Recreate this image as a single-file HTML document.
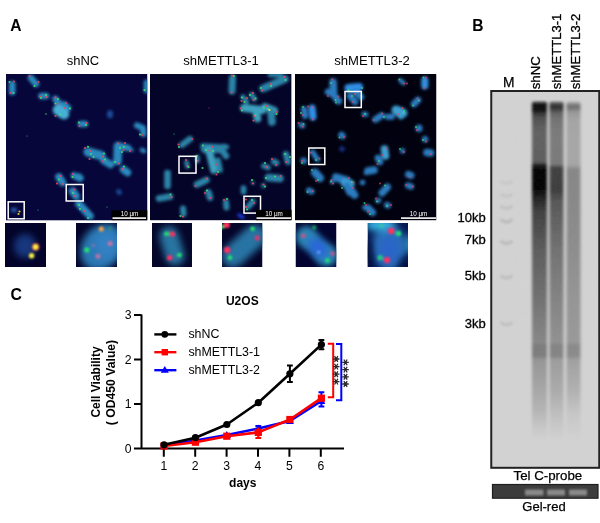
<!DOCTYPE html>
<html><head><meta charset="utf-8">
<style>
html,body{margin:0;padding:0;background:#fff;width:600px;height:523px;overflow:hidden}
svg{display:block;font-family:"Liberation Sans",sans-serif;will-change:transform}
</style></head><body>
<svg width="600" height="523" viewBox="0 0 600 523">
<defs>
  <filter id="b1" x="-50%" y="-50%" width="200%" height="200%"><feGaussianBlur stdDeviation="1"/></filter>
  <filter id="b2" x="-50%" y="-50%" width="200%" height="200%"><feGaussianBlur stdDeviation="2"/></filter>
  <filter id="b3" x="-50%" y="-50%" width="200%" height="200%"><feGaussianBlur stdDeviation="3"/></filter>
  <filter id="cb" x="-50%" y="-50%" width="200%" height="200%"><feGaussianBlur stdDeviation="1.4"/></filter>
  <filter id="db" x="-100%" y="-100%" width="300%" height="300%"><feGaussianBlur stdDeviation="0.7"/></filter>
  <filter id="b5" x="-50%" y="-50%" width="200%" height="200%"><feGaussianBlur stdDeviation="5"/></filter>
</defs>

<!-- Panel labels -->
<text x="10.2" y="31.2" font-size="15.6" font-weight="bold">A</text>
<text x="472.3" y="31.4" font-size="15.6" font-weight="bold">B</text>
<text x="10.6" y="300.2" font-size="15.8" font-weight="bold">C</text>

<!-- Panel A titles -->
<text x="83" y="64.6" font-size="13" text-anchor="middle">shNC</text>
<text x="221" y="64.6" font-size="13.1" text-anchor="middle">shMETTL3-1</text>
<text x="372" y="64.6" font-size="13.1" text-anchor="middle">shMETTL3-2</text>

<!-- Microscopy images -->
<clipPath id="cp1"><rect x="6" y="74" width="141.5" height="146.6"/></clipPath>
<g clip-path="url(#cp1)">
<rect x="6" y="74" width="141.5" height="146.6" fill="#06063a"/>
<g filter="url(#cb)">
<path d="M12.2 84.0 L12.2 92.0" stroke="#2c8abe" stroke-width="6.6" stroke-linecap="round" stroke-linejoin="round" fill="none" opacity="1.0"/>
<path d="M31.0 78.0 L36.0 84.0" stroke="#2c8abe" stroke-width="6.6" stroke-linecap="round" stroke-linejoin="round" fill="none" opacity="1.0"/>
<path d="M41.5 96.0 L46.0 96.0" stroke="#2c8abe" stroke-width="6.6" stroke-linecap="round" stroke-linejoin="round" fill="none" opacity="1.0"/>
<path d="M55.5 99.0 L58.5 103.0" stroke="#2c8abe" stroke-width="6.6" stroke-linecap="round" stroke-linejoin="round" fill="none" opacity="1.0"/>
<path d="M64.0 104.5 L68.0 108.0" stroke="#2c8abe" stroke-width="6.6" stroke-linecap="round" stroke-linejoin="round" fill="none" opacity="1.0"/>
<path d="M58.0 110.0 L64.0 114.0" stroke="#46b0d6" stroke-width="10.6" stroke-linecap="round" stroke-linejoin="round" fill="none" opacity="1.0"/>
<path d="M110.0 113.0 L110.0 115.5" stroke="#2060b0" stroke-width="5.6" stroke-linecap="round" stroke-linejoin="round" fill="none" opacity="0.8"/>
<path d="M81.0 124.0 L85.0 124.0" stroke="#2c8abe" stroke-width="6.6" stroke-linecap="round" stroke-linejoin="round" fill="none" opacity="1.0"/>
<path d="M137.0 125.5 L143.0 128.0 L143.5 134.0" stroke="#2c8abe" stroke-width="6.1" stroke-linecap="round" stroke-linejoin="round" fill="none" opacity="1.0"/>
<path d="M146.0 82.0 L146.0 91.0" stroke="#2c8abe" stroke-width="4.6" stroke-linecap="round" stroke-linejoin="round" fill="none" opacity="1.0"/>
<path d="M88.0 152.0 L101.0 155.5" stroke="#2c8abe" stroke-width="9.1" stroke-linecap="round" stroke-linejoin="round" fill="none" opacity="1.0"/>
<path d="M104.0 160.5 L110.5 164.5" stroke="#2c8abe" stroke-width="7.6" stroke-linecap="round" stroke-linejoin="round" fill="none" opacity="1.0"/>
<path d="M118.0 146.0 L117.5 161.0" stroke="#2c8abe" stroke-width="8.6" stroke-linecap="round" stroke-linejoin="round" fill="none" opacity="1.0"/>
<path d="M118.0 145.5 L128.0 148.0" stroke="#2c8abe" stroke-width="6.6" stroke-linecap="round" stroke-linejoin="round" fill="none" opacity="1.0"/>
<path d="M123.5 169.5 L127.5 172.5" stroke="#2c8abe" stroke-width="7.6" stroke-linecap="round" stroke-linejoin="round" fill="none" opacity="1.0"/>
<path d="M131.0 150.0 L132.0 150.0" stroke="#2c8abe" stroke-width="3.6" stroke-linecap="round" stroke-linejoin="round" fill="none" opacity="1.0"/>
<path d="M142.0 150.0 L144.0 151.0" stroke="#2c8abe" stroke-width="4.6" stroke-linecap="round" stroke-linejoin="round" fill="none" opacity="1.0"/>
<path d="M59.0 177.0 L62.5 182.5" stroke="#2c8abe" stroke-width="7.6" stroke-linecap="round" stroke-linejoin="round" fill="none" opacity="1.0"/>
<path d="M74.0 175.5 L79.0 178.0" stroke="#2c8abe" stroke-width="6.6" stroke-linecap="round" stroke-linejoin="round" fill="none" opacity="1.0"/>
<path d="M79.0 176.0 L81.0 178.0" stroke="#2c8abe" stroke-width="5.6" stroke-linecap="round" stroke-linejoin="round" fill="none" opacity="1.0"/>
<path d="M72.5 191.0 L76.0 196.0" stroke="#2c8abe" stroke-width="7.6" stroke-linecap="round" stroke-linejoin="round" fill="none" opacity="1.0"/>
<path d="M79.0 204.0 L90.0 216.0" stroke="#2c8abe" stroke-width="7.6" stroke-linecap="round" stroke-linejoin="round" fill="none" opacity="1.0"/>
<path d="M118.5 191.5 L119.5 192.5" stroke="#2060b0" stroke-width="4.6" stroke-linecap="round" stroke-linejoin="round" fill="none" opacity="0.8"/>
<path d="M78.0 177.0 L80.0 179.0" stroke="#2c8abe" stroke-width="5.6" stroke-linecap="round" stroke-linejoin="round" fill="none" opacity="1.0"/>
<path d="M13.0 210.0 L15.0 210.0" stroke="#2860b0" stroke-width="4.6" stroke-linecap="round" stroke-linejoin="round" fill="none" opacity="0.9"/>
</g>
<g filter="url(#db)" opacity="0.9">
<circle cx="9.5" cy="82.0" r="1.0924999999999998" fill="#40e070"/>
<circle cx="14.0" cy="81.5" r="1.0924999999999998" fill="#f04060"/>
<circle cx="10.5" cy="93.0" r="1.0924999999999998" fill="#f04060"/>
<circle cx="13.5" cy="93.0" r="1.0924999999999998" fill="#40e070"/>
<circle cx="29.5" cy="76.0" r="1.0924999999999998" fill="#f04060"/>
<circle cx="38.5" cy="82.0" r="1.0924999999999998" fill="#f04060"/>
<circle cx="34.5" cy="86.0" r="1.0924999999999998" fill="#40e070"/>
<circle cx="40.0" cy="96.5" r="1.0924999999999998" fill="#f04060"/>
<circle cx="46.0" cy="95.0" r="1.0924999999999998" fill="#40e070"/>
<circle cx="41.0" cy="98.0" r="1.0924999999999998" fill="#40e070"/>
<circle cx="46.5" cy="97.0" r="1.0924999999999998" fill="#f04060"/>
<circle cx="55.5" cy="97.5" r="1.0924999999999998" fill="#f04060"/>
<circle cx="58.0" cy="99.0" r="1.0924999999999998" fill="#40e070"/>
<circle cx="55.5" cy="103.5" r="1.0924999999999998" fill="#40e070"/>
<circle cx="57.5" cy="104.0" r="1.0924999999999998" fill="#f04060"/>
<circle cx="66.0" cy="103.0" r="1.0924999999999998" fill="#f04060"/>
<circle cx="70.0" cy="108.5" r="1.0924999999999998" fill="#40e070"/>
<circle cx="65.0" cy="108.0" r="1.0924999999999998" fill="#f04060"/>
<circle cx="60.0" cy="114.5" r="1.0924999999999998" fill="#40e070"/>
<circle cx="55.5" cy="116.0" r="1.0924999999999998" fill="#f04060"/>
<circle cx="79.0" cy="122.5" r="1.0924999999999998" fill="#40e070"/>
<circle cx="79.5" cy="126.0" r="1.0924999999999998" fill="#f04060"/>
<circle cx="86.0" cy="125.0" r="1.0924999999999998" fill="#40e070"/>
<circle cx="86.5" cy="123.0" r="1.0924999999999998" fill="#f04060"/>
<circle cx="140.0" cy="134.5" r="1.0924999999999998" fill="#40e070"/>
<circle cx="142.0" cy="135.0" r="1.0924999999999998" fill="#f04060"/>
<circle cx="144.5" cy="90.0" r="1.0924999999999998" fill="#40e070"/>
<circle cx="85.0" cy="148.0" r="1.0924999999999998" fill="#f04060"/>
<circle cx="88.0" cy="146.8" r="1.0924999999999998" fill="#40e070"/>
<circle cx="90.0" cy="151.0" r="1.0924999999999998" fill="#f04060"/>
<circle cx="91.0" cy="154.0" r="1.0924999999999998" fill="#40e070"/>
<circle cx="89.5" cy="159.0" r="1.0924999999999998" fill="#f04060"/>
<circle cx="93.5" cy="157.0" r="1.0924999999999998" fill="#40e070"/>
<circle cx="104.0" cy="153.5" r="1.0924999999999998" fill="#40e070"/>
<circle cx="103.0" cy="156.5" r="1.0924999999999998" fill="#f04060"/>
<circle cx="105.0" cy="159.5" r="1.0924999999999998" fill="#40e070"/>
<circle cx="103.0" cy="161.0" r="1.0924999999999998" fill="#f04060"/>
<circle cx="118.0" cy="143.5" r="1.0924999999999998" fill="#f04060"/>
<circle cx="125.0" cy="143.0" r="1.0924999999999998" fill="#f04060"/>
<circle cx="124.0" cy="147.0" r="1.0924999999999998" fill="#40e070"/>
<circle cx="120.0" cy="148.0" r="1.0924999999999998" fill="#40e070"/>
<circle cx="115.0" cy="162.0" r="1.0924999999999998" fill="#40e070"/>
<circle cx="119.0" cy="163.5" r="1.0924999999999998" fill="#f04060"/>
<circle cx="122.0" cy="152.0" r="1.0924999999999998" fill="#40e070"/>
<circle cx="123.5" cy="150.0" r="1.0924999999999998" fill="#f04060"/>
<circle cx="130.0" cy="151.0" r="1.0924999999999998" fill="#f04060"/>
<circle cx="124.0" cy="166.5" r="1.0924999999999998" fill="#40e070"/>
<circle cx="122.5" cy="169.0" r="1.0924999999999998" fill="#f04060"/>
<circle cx="60.5" cy="176.0" r="1.0924999999999998" fill="#f04060"/>
<circle cx="59.0" cy="179.5" r="1.0924999999999998" fill="#40e070"/>
<circle cx="57.0" cy="183.5" r="1.0924999999999998" fill="#f04060"/>
<circle cx="63.0" cy="184.0" r="1.0924999999999998" fill="#f04060"/>
<circle cx="73.0" cy="174.0" r="1.0924999999999998" fill="#f04060"/>
<circle cx="72.5" cy="177.0" r="1.0924999999999998" fill="#40e070"/>
<circle cx="73.0" cy="193.0" r="1.0924999999999998" fill="#40e070"/>
<circle cx="74.0" cy="196.0" r="1.0924999999999998" fill="#f04060"/>
<circle cx="74.5" cy="189.5" r="1.0924999999999998" fill="#f04060"/>
<circle cx="79.0" cy="205.0" r="1.0924999999999998" fill="#40e070"/>
<circle cx="84.5" cy="211.0" r="1.0924999999999998" fill="#f04060"/>
<circle cx="80.0" cy="209.0" r="1.0924999999999998" fill="#40e070"/>
<circle cx="88.0" cy="218.0" r="1.0924999999999998" fill="#40e070"/>
<circle cx="19.5" cy="211.5" r="1.0924999999999998" fill="#ffe040"/>
<circle cx="18.5" cy="214.0" r="1.0924999999999998" fill="#ffe040"/>
<circle cx="46.0" cy="114.0" r="0.76" fill="#40e070"/>
<circle cx="107.0" cy="207.0" r="0.57" fill="#40e070"/>
<circle cx="27.0" cy="136.0" r="0.57" fill="#40e070"/>
<circle cx="38.0" cy="210.0" r="0.57" fill="#40e070"/>
</g>
<rect x="8.2" y="201.8" width="16" height="17" fill="none" stroke="#fff" stroke-width="1.5"/><rect x="66.2" y="184.5" width="17" height="16.5" fill="none" stroke="#fff" stroke-width="1.5"/><rect x="111.5" y="210.3" width="36" height="10" fill="#000"/><rect x="112.5" y="217.3" width="33.5" height="1.6" fill="#fff"/><text x="129.5" y="216" font-size="6.3" fill="#fff" text-anchor="middle">10 μm</text>
</g>
<clipPath id="cp2"><rect x="150" y="74" width="141.6" height="146.4"/></clipPath>
<g clip-path="url(#cp2)">
<rect x="150" y="74" width="141.6" height="146.4" fill="#040428"/>
<g filter="url(#cb)">
<path d="M182.0 145.0 L190.0 139.0" stroke="#2c84a8" stroke-width="6.1" stroke-linecap="round" stroke-linejoin="round" fill="none" opacity="1.0"/>
<path d="M203.0 146.0 L222.0 147.0" stroke="#2c84a8" stroke-width="5.6" stroke-linecap="round" stroke-linejoin="round" fill="none" opacity="1.0"/>
<path d="M232.5 78.0 L232.0 91.0" stroke="#2c84a8" stroke-width="7.1" stroke-linecap="round" stroke-linejoin="round" fill="none" opacity="1.0"/>
<path d="M263.0 88.5 L285.0 79.0" stroke="#2c84a8" stroke-width="7.6" stroke-linecap="round" stroke-linejoin="round" fill="none" opacity="1.0"/>
<path d="M270.0 75.0 L281.0 75.0" stroke="#2c84a8" stroke-width="4.6" stroke-linecap="round" stroke-linejoin="round" fill="none" opacity="1.0"/>
<path d="M243.0 97.0 L246.5 101.5" stroke="#2c84a8" stroke-width="5.1" stroke-linecap="round" stroke-linejoin="round" fill="none" opacity="1.0"/>
<path d="M251.5 94.5 L254.5 99.0" stroke="#2c84a8" stroke-width="5.1" stroke-linecap="round" stroke-linejoin="round" fill="none" opacity="1.0"/>
<path d="M244.0 108.0 L262.0 110.0" stroke="#3ca0be" stroke-width="8.1" stroke-linecap="round" stroke-linejoin="round" fill="none" opacity="1.0"/>
<path d="M256.0 111.0 L257.5 118.5" stroke="#3ca0be" stroke-width="7.6" stroke-linecap="round" stroke-linejoin="round" fill="none" opacity="1.0"/>
<path d="M265.0 107.0 L274.0 110.5" stroke="#3ca0be" stroke-width="7.6" stroke-linecap="round" stroke-linejoin="round" fill="none" opacity="1.0"/>
<path d="M271.0 112.0 L272.0 122.0" stroke="#2c84a8" stroke-width="7.6" stroke-linecap="round" stroke-linejoin="round" fill="none" opacity="1.0"/>
<path d="M224.0 146.0 L227.0 147.0" stroke="#2c84a8" stroke-width="4.6" stroke-linecap="round" stroke-linejoin="round" fill="none" opacity="1.0"/>
<path d="M186.5 162.0 L187.5 166.5" stroke="#2c84a8" stroke-width="4.6" stroke-linecap="round" stroke-linejoin="round" fill="none" opacity="1.0"/>
<path d="M167.5 173.0 L167.5 186.0" stroke="#2c84a8" stroke-width="6.6" stroke-linecap="round" stroke-linejoin="round" fill="none" opacity="1.0"/>
<path d="M159.0 198.5 L170.0 196.5" stroke="#2c84a8" stroke-width="6.6" stroke-linecap="round" stroke-linejoin="round" fill="none" opacity="1.0"/>
<path d="M183.0 208.5 L183.5 214.0" stroke="#2c84a8" stroke-width="6.1" stroke-linecap="round" stroke-linejoin="round" fill="none" opacity="1.0"/>
<path d="M205.0 149.0 L220.0 149.0" stroke="#2c84a8" stroke-width="8.6" stroke-linecap="round" stroke-linejoin="round" fill="none" opacity="1.0"/>
<path d="M209.0 150.0 L214.0 170.0" stroke="#3ca0be" stroke-width="7.6" stroke-linecap="round" stroke-linejoin="round" fill="none" opacity="1.0"/>
<path d="M218.0 160.0 L220.0 170.0" stroke="#2c84a8" stroke-width="5.6" stroke-linecap="round" stroke-linejoin="round" fill="none" opacity="1.0"/>
<path d="M197.0 184.5 L206.5 180.0" stroke="#2c84a8" stroke-width="6.6" stroke-linecap="round" stroke-linejoin="round" fill="none" opacity="1.0"/>
<path d="M208.5 192.5 L210.0 197.5" stroke="#2c84a8" stroke-width="6.6" stroke-linecap="round" stroke-linejoin="round" fill="none" opacity="1.0"/>
<path d="M197.5 157.0 L197.5 161.0" stroke="#2c84a8" stroke-width="4.6" stroke-linecap="round" stroke-linejoin="round" fill="none" opacity="1.0"/>
<path d="M222.0 150.0 L226.0 156.0" stroke="#2c84a8" stroke-width="6.6" stroke-linecap="round" stroke-linejoin="round" fill="none" opacity="1.0"/>
<path d="M274.0 161.5 L276.5 163.0" stroke="#2c84a8" stroke-width="6.1" stroke-linecap="round" stroke-linejoin="round" fill="none" opacity="1.0"/>
<path d="M264.0 166.0 L268.0 167.5" stroke="#2c84a8" stroke-width="5.6" stroke-linecap="round" stroke-linejoin="round" fill="none" opacity="1.0"/>
<path d="M286.0 154.0 L288.0 162.0" stroke="#2c84a8" stroke-width="6.1" stroke-linecap="round" stroke-linejoin="round" fill="none" opacity="1.0"/>
<path d="M268.5 177.5 L280.0 178.5" stroke="#2c84a8" stroke-width="7.6" stroke-linecap="round" stroke-linejoin="round" fill="none" opacity="1.0"/>
<path d="M252.5 182.5 L253.0 183.0" stroke="#2c84a8" stroke-width="3.6" stroke-linecap="round" stroke-linejoin="round" fill="none" opacity="0.8"/>
<path d="M263.0 185.5 L263.5 186.0" stroke="#2c84a8" stroke-width="4.6" stroke-linecap="round" stroke-linejoin="round" fill="none" opacity="0.8"/>
<path d="M243.5 188.0 L243.5 192.0" stroke="#2c84a8" stroke-width="5.6" stroke-linecap="round" stroke-linejoin="round" fill="none" opacity="1.0"/>
<path d="M226.0 202.0 L226.5 207.5" stroke="#2c84a8" stroke-width="6.1" stroke-linecap="round" stroke-linejoin="round" fill="none" opacity="1.0"/>
<path d="M248.0 207.0 L253.0 201.5" stroke="#2c84a8" stroke-width="5.6" stroke-linecap="round" stroke-linejoin="round" fill="none" opacity="1.0"/>
<path d="M239.0 215.0 L243.0 217.5" stroke="#2040ff" stroke-width="3.1" stroke-linecap="round" stroke-linejoin="round" fill="none" opacity="1.0"/>
</g>
<g filter="url(#db)" opacity="0.9">
<circle cx="178.5" cy="144.5" r="1.0924999999999998" fill="#f04060"/>
<circle cx="192.0" cy="139.0" r="1.0924999999999998" fill="#f04060"/>
<circle cx="179.0" cy="147.0" r="1.0924999999999998" fill="#40e070"/>
<circle cx="203.0" cy="145.5" r="1.0924999999999998" fill="#40e070"/>
<circle cx="212.0" cy="147.0" r="1.0924999999999998" fill="#f04060"/>
<circle cx="232.0" cy="75.5" r="1.0924999999999998" fill="#f04060"/>
<circle cx="234.0" cy="76.0" r="1.0924999999999998" fill="#40e070"/>
<circle cx="231.5" cy="92.5" r="1.0924999999999998" fill="#f04060"/>
<circle cx="261.0" cy="88.0" r="1.0924999999999998" fill="#40e070"/>
<circle cx="262.0" cy="90.5" r="1.0924999999999998" fill="#f04060"/>
<circle cx="271.0" cy="84.0" r="1.0924999999999998" fill="#f04060"/>
<circle cx="271.0" cy="86.0" r="1.0924999999999998" fill="#40e070"/>
<circle cx="284.5" cy="77.0" r="1.0924999999999998" fill="#f04060"/>
<circle cx="285.5" cy="80.0" r="1.0924999999999998" fill="#40e070"/>
<circle cx="242.0" cy="97.5" r="1.0924999999999998" fill="#40e070"/>
<circle cx="241.5" cy="101.0" r="1.0924999999999998" fill="#f04060"/>
<circle cx="247.0" cy="98.0" r="1.0924999999999998" fill="#f04060"/>
<circle cx="244.5" cy="102.0" r="1.0924999999999998" fill="#40e070"/>
<circle cx="250.0" cy="95.0" r="1.0924999999999998" fill="#40e070"/>
<circle cx="253.0" cy="93.0" r="1.0924999999999998" fill="#f04060"/>
<circle cx="253.5" cy="100.0" r="1.0924999999999998" fill="#f04060"/>
<circle cx="255.5" cy="98.5" r="1.0924999999999998" fill="#40e070"/>
<circle cx="241.0" cy="108.5" r="1.0924999999999998" fill="#f04060"/>
<circle cx="242.0" cy="110.5" r="1.0924999999999998" fill="#40e070"/>
<circle cx="254.5" cy="116.0" r="1.0924999999999998" fill="#f04060"/>
<circle cx="255.5" cy="115.0" r="1.0924999999999998" fill="#40e070"/>
<circle cx="253.5" cy="120.5" r="1.0924999999999998" fill="#f04060"/>
<circle cx="264.0" cy="107.5" r="1.0924999999999998" fill="#40e070"/>
<circle cx="266.0" cy="106.0" r="1.0924999999999998" fill="#f04060"/>
<circle cx="268.0" cy="109.0" r="1.0924999999999998" fill="#40e070"/>
<circle cx="269.5" cy="110.0" r="1.0924999999999998" fill="#ffe040"/>
<circle cx="277.0" cy="112.0" r="1.0924999999999998" fill="#f04060"/>
<circle cx="276.5" cy="114.0" r="1.0924999999999998" fill="#40e070"/>
<circle cx="186.0" cy="160.0" r="1.0924999999999998" fill="#f04060"/>
<circle cx="187.5" cy="166.0" r="1.0924999999999998" fill="#f04060"/>
<circle cx="188.5" cy="167.0" r="1.0924999999999998" fill="#40e070"/>
<circle cx="170.5" cy="194.5" r="1.0924999999999998" fill="#40e070"/>
<circle cx="171.5" cy="197.0" r="1.0924999999999998" fill="#f04060"/>
<circle cx="180.5" cy="216.0" r="1.0924999999999998" fill="#40e070"/>
<circle cx="183.0" cy="216.5" r="1.0924999999999998" fill="#f04060"/>
<circle cx="206.0" cy="150.0" r="1.0924999999999998" fill="#40e070"/>
<circle cx="209.5" cy="150.5" r="1.0924999999999998" fill="#f04060"/>
<circle cx="213.0" cy="151.0" r="1.0924999999999998" fill="#40e070"/>
<circle cx="216.0" cy="164.5" r="1.0924999999999998" fill="#f04060"/>
<circle cx="218.0" cy="172.0" r="1.0924999999999998" fill="#40e070"/>
<circle cx="216.5" cy="174.5" r="1.0924999999999998" fill="#f04060"/>
<circle cx="202.5" cy="168.0" r="1.0924999999999998" fill="#40e070"/>
<circle cx="195.5" cy="186.0" r="1.0924999999999998" fill="#f04060"/>
<circle cx="207.0" cy="178.5" r="1.0924999999999998" fill="#f04060"/>
<circle cx="205.0" cy="193.0" r="1.0924999999999998" fill="#f04060"/>
<circle cx="207.0" cy="190.5" r="1.0924999999999998" fill="#40e070"/>
<circle cx="210.0" cy="198.0" r="1.0924999999999998" fill="#f04060"/>
<circle cx="197.0" cy="156.0" r="1.0924999999999998" fill="#40e070"/>
<circle cx="197.5" cy="161.0" r="1.0924999999999998" fill="#f04060"/>
<circle cx="272.0" cy="159.0" r="1.0924999999999998" fill="#f04060"/>
<circle cx="276.0" cy="165.0" r="1.0924999999999998" fill="#f04060"/>
<circle cx="265.0" cy="163.0" r="1.0924999999999998" fill="#40e070"/>
<circle cx="267.0" cy="167.0" r="1.0924999999999998" fill="#f04060"/>
<circle cx="285.0" cy="154.0" r="1.0924999999999998" fill="#40e070"/>
<circle cx="286.0" cy="162.0" r="1.0924999999999998" fill="#f04060"/>
<circle cx="290.0" cy="157.0" r="1.0924999999999998" fill="#40e070"/>
<circle cx="275.0" cy="176.5" r="1.0924999999999998" fill="#40e070"/>
<circle cx="281.0" cy="176.0" r="1.0924999999999998" fill="#f04060"/>
<circle cx="266.0" cy="178.0" r="1.0924999999999998" fill="#40e070"/>
<circle cx="252.0" cy="180.0" r="1.0924999999999998" fill="#40e070"/>
<circle cx="253.0" cy="183.5" r="1.0924999999999998" fill="#f04060"/>
<circle cx="263.5" cy="184.5" r="1.0924999999999998" fill="#f04060"/>
<circle cx="265.0" cy="186.5" r="1.0924999999999998" fill="#40e070"/>
<circle cx="224.0" cy="200.0" r="1.0924999999999998" fill="#f04060"/>
<circle cx="227.0" cy="199.0" r="1.0924999999999998" fill="#40e070"/>
<circle cx="246.0" cy="199.5" r="1.0924999999999998" fill="#f04060"/>
<circle cx="252.0" cy="200.0" r="1.0924999999999998" fill="#40e070"/>
<circle cx="246.0" cy="207.0" r="1.0924999999999998" fill="#f04060"/>
<circle cx="247.0" cy="209.5" r="1.0924999999999998" fill="#40e070"/>
<circle cx="254.0" cy="203.0" r="1.0924999999999998" fill="#f04060"/>
<circle cx="174.0" cy="134.0" r="0.57" fill="#40e070"/>
<circle cx="209.0" cy="108.0" r="0.57" fill="#f04060"/>
</g>
<rect x="179" y="156.3" width="17" height="16.8" fill="none" stroke="#fff" stroke-width="1.5"/><rect x="244" y="196.3" width="16.5" height="16.8" fill="none" stroke="#fff" stroke-width="1.5"/><rect x="256" y="209.8" width="36" height="10.5" fill="#000"/><rect x="256.5" y="217.3" width="34.5" height="1.6" fill="#fff"/><text x="274" y="216" font-size="6.3" fill="#fff" text-anchor="middle">10 μm</text>
</g>
<clipPath id="cp3"><rect x="295" y="74" width="141.5" height="146.4"/></clipPath>
<g clip-path="url(#cp3)">
<rect x="295" y="74" width="141.5" height="146.4" fill="#01010f"/>
<g filter="url(#cb)">
<path d="M333.0 82.0 L333.5 92.0" stroke="#2a7cc0" stroke-width="7.6" stroke-linecap="round" stroke-linejoin="round" fill="none" opacity="1.0"/>
<path d="M328.0 92.0 L334.0 95.0" stroke="#2a7cc0" stroke-width="6.6" stroke-linecap="round" stroke-linejoin="round" fill="none" opacity="1.0"/>
<path d="M336.0 98.0 L338.5 101.0" stroke="#2a7cc0" stroke-width="7.1" stroke-linecap="round" stroke-linejoin="round" fill="none" opacity="1.0"/>
<path d="M348.5 88.0 L359.0 87.0" stroke="#2f90e8" stroke-width="8.1" stroke-linecap="round" stroke-linejoin="round" fill="none" opacity="1.0"/>
<path d="M356.0 92.0 L361.0 97.0" stroke="#2a7cc0" stroke-width="6.6" stroke-linecap="round" stroke-linejoin="round" fill="none" opacity="1.0"/>
<path d="M350.0 96.0 L355.0 102.0" stroke="#2a7cc0" stroke-width="6.6" stroke-linecap="round" stroke-linejoin="round" fill="none" opacity="1.0"/>
<path d="M304.0 109.0 L305.0 116.0" stroke="#2a7cc0" stroke-width="6.1" stroke-linecap="round" stroke-linejoin="round" fill="none" opacity="1.0"/>
<path d="M312.0 108.0 L313.0 117.0" stroke="#3090e8" stroke-width="7.1" stroke-linecap="round" stroke-linejoin="round" fill="none" opacity="1.0"/>
<path d="M301.0 125.0 L302.5 125.5" stroke="#2a7cc0" stroke-width="5.6" stroke-linecap="round" stroke-linejoin="round" fill="none" opacity="1.0"/>
<path d="M341.5 135.0 L342.5 136.0" stroke="#2a7cc0" stroke-width="6.6" stroke-linecap="round" stroke-linejoin="round" fill="none" opacity="1.0"/>
<path d="M364.0 114.0 L366.0 114.5" stroke="#2a7cc0" stroke-width="5.1" stroke-linecap="round" stroke-linejoin="round" fill="none" opacity="1.0"/>
<path d="M400.5 80.5 L403.5 83.0" stroke="#2a7cc0" stroke-width="4.6" stroke-linecap="round" stroke-linejoin="round" fill="none" opacity="1.0"/>
<path d="M424.8 80.0 L424.8 86.0" stroke="#3090e0" stroke-width="7.1" stroke-linecap="round" stroke-linejoin="round" fill="none" opacity="1.0"/>
<path d="M414.0 104.0 L418.0 100.0" stroke="#2a7cc0" stroke-width="6.6" stroke-linecap="round" stroke-linejoin="round" fill="none" opacity="1.0"/>
<path d="M396.0 110.0 L403.0 113.0" stroke="#3c9ed2" stroke-width="9.1" stroke-linecap="round" stroke-linejoin="round" fill="none" opacity="1.0"/>
<path d="M399.0 114.0 L401.0 116.0" stroke="#3c9ed2" stroke-width="6.6" stroke-linecap="round" stroke-linejoin="round" fill="none" opacity="1.0"/>
<path d="M375.5 119.5 L381.5 115.5" stroke="#2a7cc0" stroke-width="6.6" stroke-linecap="round" stroke-linejoin="round" fill="none" opacity="1.0"/>
<path d="M387.5 116.8 L392.0 116.8" stroke="#2a7cc0" stroke-width="6.1" stroke-linecap="round" stroke-linejoin="round" fill="none" opacity="1.0"/>
<path d="M419.0 128.0 L419.0 128.5" stroke="#2a7cc0" stroke-width="7.1" stroke-linecap="round" stroke-linejoin="round" fill="none" opacity="1.0"/>
<path d="M425.0 139.0 L425.3 139.5" stroke="#2a7cc0" stroke-width="6.1" stroke-linecap="round" stroke-linejoin="round" fill="none" opacity="1.0"/>
<path d="M312.5 152.0 L317.5 159.5" stroke="#2a7cc0" stroke-width="5.1" stroke-linecap="round" stroke-linejoin="round" fill="none" opacity="1.0"/>
<path d="M303.5 160.5 L304.0 161.0" stroke="#2a7cc0" stroke-width="6.1" stroke-linecap="round" stroke-linejoin="round" fill="none" opacity="1.0"/>
<path d="M315.0 172.5 L320.0 178.0" stroke="#2a7cc0" stroke-width="8.1" stroke-linecap="round" stroke-linejoin="round" fill="none" opacity="1.0"/>
<path d="M309.0 190.5 L311.5 191.5" stroke="#2a7cc0" stroke-width="6.1" stroke-linecap="round" stroke-linejoin="round" fill="none" opacity="1.0"/>
<path d="M336.0 177.5 L346.5 180.5" stroke="#2a7cc0" stroke-width="8.1" stroke-linecap="round" stroke-linejoin="round" fill="none" opacity="1.0"/>
<path d="M332.0 182.0 L332.0 182.0" stroke="#2a7cc0" stroke-width="4.6" stroke-linecap="round" stroke-linejoin="round" fill="none" opacity="1.0"/>
<path d="M345.0 183.0 L350.5 184.0" stroke="#3c9ed2" stroke-width="8.6" stroke-linecap="round" stroke-linejoin="round" fill="none" opacity="1.0"/>
<path d="M347.0 186.0 L350.0 192.0" stroke="#2a7cc0" stroke-width="7.6" stroke-linecap="round" stroke-linejoin="round" fill="none" opacity="1.0"/>
<path d="M352.0 191.0 L354.5 195.0" stroke="#2a7cc0" stroke-width="7.6" stroke-linecap="round" stroke-linejoin="round" fill="none" opacity="1.0"/>
<path d="M362.5 182.5 L362.5 182.5" stroke="#2a7cc0" stroke-width="5.6" stroke-linecap="round" stroke-linejoin="round" fill="none" opacity="1.0"/>
<path d="M365.0 207.5 L366.0 207.5" stroke="#2a7cc0" stroke-width="5.6" stroke-linecap="round" stroke-linejoin="round" fill="none" opacity="1.0"/>
<path d="M366.0 173.0 L366.0 173.0" stroke="#2a7cc0" stroke-width="4.6" stroke-linecap="round" stroke-linejoin="round" fill="none" opacity="1.0"/>
<path d="M384.5 149.0 L385.5 156.0" stroke="#3c9ed2" stroke-width="7.6" stroke-linecap="round" stroke-linejoin="round" fill="none" opacity="1.0"/>
<path d="M378.0 158.0 L380.0 162.0" stroke="#2a7cc0" stroke-width="6.6" stroke-linecap="round" stroke-linejoin="round" fill="none" opacity="1.0"/>
<path d="M368.0 171.0 L374.0 170.0" stroke="#2a7cc0" stroke-width="7.6" stroke-linecap="round" stroke-linejoin="round" fill="none" opacity="1.0"/>
<path d="M402.5 150.5 L402.5 151.0" stroke="#2a7cc0" stroke-width="5.1" stroke-linecap="round" stroke-linejoin="round" fill="none" opacity="1.0"/>
<path d="M427.0 152.5 L430.5 153.0" stroke="#2a7cc0" stroke-width="7.6" stroke-linecap="round" stroke-linejoin="round" fill="none" opacity="1.0"/>
<path d="M408.5 174.5 L411.0 175.5" stroke="#2a7cc0" stroke-width="7.1" stroke-linecap="round" stroke-linejoin="round" fill="none" opacity="1.0"/>
<path d="M408.0 185.5 L411.0 186.5" stroke="#2a7cc0" stroke-width="6.1" stroke-linecap="round" stroke-linejoin="round" fill="none" opacity="1.0"/>
<path d="M382.0 193.0 L387.5 187.0" stroke="#2a7cc0" stroke-width="7.1" stroke-linecap="round" stroke-linejoin="round" fill="none" opacity="1.0"/>
<path d="M378.0 200.5 L378.5 200.5" stroke="#2a7cc0" stroke-width="5.6" stroke-linecap="round" stroke-linejoin="round" fill="none" opacity="1.0"/>
<path d="M387.0 205.0 L388.0 205.5" stroke="#2a7cc0" stroke-width="6.1" stroke-linecap="round" stroke-linejoin="round" fill="none" opacity="1.0"/>
<path d="M368.0 208.0 L372.5 212.5" stroke="#2a7cc0" stroke-width="7.1" stroke-linecap="round" stroke-linejoin="round" fill="none" opacity="1.0"/>
<path d="M342.0 149.0 L342.0 149.0" stroke="#1840b0" stroke-width="5.6" stroke-linecap="round" stroke-linejoin="round" fill="none" opacity="0.7"/>
</g>
<g filter="url(#db)" opacity="0.75">
<circle cx="332.0" cy="79.5" r="0.9774999999999999" fill="#f04060"/>
<circle cx="331.0" cy="83.0" r="0.9774999999999999" fill="#40e070"/>
<circle cx="328.0" cy="96.0" r="0.9774999999999999" fill="#f04060"/>
<circle cx="335.5" cy="100.0" r="0.9774999999999999" fill="#40e070"/>
<circle cx="336.0" cy="102.5" r="0.9774999999999999" fill="#40e070"/>
<circle cx="338.0" cy="96.5" r="0.9774999999999999" fill="#f04060"/>
<circle cx="355.0" cy="94.0" r="0.9774999999999999" fill="#f04060"/>
<circle cx="353.0" cy="102.0" r="0.9774999999999999" fill="#f04060"/>
<circle cx="352.0" cy="96.0" r="0.9774999999999999" fill="#40e070"/>
<circle cx="362.0" cy="88.0" r="0.9774999999999999" fill="#40e070"/>
<circle cx="348.5" cy="90.0" r="0.9774999999999999" fill="#40e070"/>
<circle cx="303.0" cy="107.0" r="0.9774999999999999" fill="#40e070"/>
<circle cx="308.0" cy="106.5" r="0.9774999999999999" fill="#f04060"/>
<circle cx="301.0" cy="113.0" r="0.9774999999999999" fill="#40e070"/>
<circle cx="303.0" cy="115.0" r="0.9774999999999999" fill="#f04060"/>
<circle cx="313.0" cy="107.5" r="0.9774999999999999" fill="#f04060"/>
<circle cx="313.0" cy="119.5" r="0.9774999999999999" fill="#f04060"/>
<circle cx="298.5" cy="123.0" r="0.9774999999999999" fill="#f04060"/>
<circle cx="303.5" cy="124.0" r="0.9774999999999999" fill="#40e070"/>
<circle cx="303.0" cy="126.5" r="0.9774999999999999" fill="#f04060"/>
<circle cx="339.5" cy="137.5" r="0.9774999999999999" fill="#40e070"/>
<circle cx="344.0" cy="137.0" r="0.9774999999999999" fill="#f04060"/>
<circle cx="363.0" cy="116.0" r="0.9774999999999999" fill="#f04060"/>
<circle cx="365.0" cy="114.0" r="0.9774999999999999" fill="#40e070"/>
<circle cx="399.5" cy="79.5" r="0.9774999999999999" fill="#40e070"/>
<circle cx="404.0" cy="83.5" r="0.9774999999999999" fill="#f04060"/>
<circle cx="407.0" cy="83.5" r="0.9774999999999999" fill="#f04060"/>
<circle cx="423.5" cy="77.5" r="0.9774999999999999" fill="#40e070"/>
<circle cx="426.0" cy="77.5" r="0.9774999999999999" fill="#f04060"/>
<circle cx="424.0" cy="88.0" r="0.9774999999999999" fill="#f04060"/>
<circle cx="417.5" cy="98.5" r="0.9774999999999999" fill="#f04060"/>
<circle cx="419.0" cy="100.5" r="0.9774999999999999" fill="#40e070"/>
<circle cx="413.0" cy="105.5" r="0.9774999999999999" fill="#40e070"/>
<circle cx="402.5" cy="108.0" r="0.9774999999999999" fill="#f04060"/>
<circle cx="404.0" cy="111.0" r="0.9774999999999999" fill="#40e070"/>
<circle cx="399.0" cy="114.0" r="0.9774999999999999" fill="#f04060"/>
<circle cx="403.5" cy="113.0" r="0.9774999999999999" fill="#40e070"/>
<circle cx="382.0" cy="113.5" r="0.9774999999999999" fill="#f04060"/>
<circle cx="373.5" cy="120.0" r="0.9774999999999999" fill="#f04060"/>
<circle cx="384.0" cy="117.0" r="0.9774999999999999" fill="#40e070"/>
<circle cx="416.0" cy="127.0" r="0.9774999999999999" fill="#40e070"/>
<circle cx="417.0" cy="130.0" r="0.9774999999999999" fill="#f04060"/>
<circle cx="423.0" cy="140.0" r="0.9774999999999999" fill="#40e070"/>
<circle cx="426.0" cy="141.5" r="0.9774999999999999" fill="#f04060"/>
<circle cx="311.0" cy="152.5" r="0.9774999999999999" fill="#f04060"/>
<circle cx="319.5" cy="158.5" r="0.9774999999999999" fill="#f04060"/>
<circle cx="316.0" cy="160.0" r="0.9774999999999999" fill="#40e070"/>
<circle cx="302.0" cy="161.0" r="0.9774999999999999" fill="#f04060"/>
<circle cx="302.0" cy="163.0" r="0.9774999999999999" fill="#40e070"/>
<circle cx="312.0" cy="170.0" r="0.9774999999999999" fill="#40e070"/>
<circle cx="316.0" cy="181.0" r="0.9774999999999999" fill="#f04060"/>
<circle cx="318.0" cy="180.0" r="0.9774999999999999" fill="#40e070"/>
<circle cx="307.5" cy="192.0" r="0.9774999999999999" fill="#40e070"/>
<circle cx="313.0" cy="191.0" r="0.9774999999999999" fill="#f04060"/>
<circle cx="331.0" cy="181.5" r="0.9774999999999999" fill="#40e070"/>
<circle cx="333.0" cy="183.5" r="0.9774999999999999" fill="#f04060"/>
<circle cx="331.5" cy="180.0" r="0.9774999999999999" fill="#f04060"/>
<circle cx="349.0" cy="178.0" r="0.9774999999999999" fill="#f04060"/>
<circle cx="352.0" cy="182.0" r="0.9774999999999999" fill="#40e070"/>
<circle cx="353.5" cy="182.5" r="0.9774999999999999" fill="#f04060"/>
<circle cx="342.0" cy="188.0" r="0.9774999999999999" fill="#40e070"/>
<circle cx="353.0" cy="188.0" r="0.9774999999999999" fill="#f04060"/>
<circle cx="364.5" cy="203.0" r="0.9774999999999999" fill="#40e070"/>
<circle cx="386.0" cy="148.5" r="0.9774999999999999" fill="#f04060"/>
<circle cx="383.0" cy="155.0" r="0.9774999999999999" fill="#f04060"/>
<circle cx="379.0" cy="161.0" r="0.9774999999999999" fill="#40e070"/>
<circle cx="377.5" cy="164.0" r="0.9774999999999999" fill="#f04060"/>
<circle cx="400.0" cy="149.0" r="0.9774999999999999" fill="#40e070"/>
<circle cx="404.0" cy="152.0" r="0.9774999999999999" fill="#f04060"/>
<circle cx="431.0" cy="154.0" r="0.9774999999999999" fill="#f04060"/>
<circle cx="409.5" cy="176.5" r="0.9774999999999999" fill="#f04060"/>
<circle cx="406.0" cy="185.0" r="0.9774999999999999" fill="#f04060"/>
<circle cx="413.0" cy="186.5" r="0.9774999999999999" fill="#f04060"/>
<circle cx="380.0" cy="183.5" r="0.9774999999999999" fill="#f04060"/>
<circle cx="385.0" cy="185.5" r="0.9774999999999999" fill="#40e070"/>
<circle cx="376.0" cy="198.5" r="0.9774999999999999" fill="#f04060"/>
<circle cx="377.0" cy="201.5" r="0.9774999999999999" fill="#40e070"/>
<circle cx="391.0" cy="205.0" r="0.9774999999999999" fill="#f04060"/>
<circle cx="387.0" cy="206.0" r="0.9774999999999999" fill="#40e070"/>
<circle cx="368.0" cy="211.5" r="0.9774999999999999" fill="#f04060"/>
<circle cx="370.0" cy="214.0" r="0.9774999999999999" fill="#40e070"/>
<circle cx="366.0" cy="205.0" r="0.9774999999999999" fill="#f04060"/>
</g>
<rect x="345" y="91.5" width="16.3" height="16" fill="none" stroke="#fff" stroke-width="1.5"/><rect x="308.8" y="148" width="16" height="16.5" fill="none" stroke="#fff" stroke-width="1.5"/><rect x="401" y="217.3" width="35" height="1.6" fill="#fff"/><text x="418.5" y="216" font-size="6.3" fill="#fff" text-anchor="middle">10 μm</text>
</g>
<!-- insets -->
<defs><filter id="ib" filterUnits="userSpaceOnUse" x="0" y="200" width="600" height="100"><feGaussianBlur stdDeviation="3.5"/></filter><filter id="ib2" filterUnits="userSpaceOnUse" x="0" y="200" width="600" height="100"><feGaussianBlur stdDeviation="5"/></filter><filter id="idb" x="-100%" y="-100%" width="300%" height="300%"><feGaussianBlur stdDeviation="1"/></filter></defs>
<clipPath id="ic1"><rect x="5" y="223" width="41" height="44"/></clipPath><g clip-path="url(#ic1)"><rect x="5" y="223" width="41" height="44" fill="#04042a"/><ellipse cx="25" cy="246" rx="11" ry="12" fill="#1a4a9a" opacity="0.75" filter="url(#ib)"/><circle cx="35.6" cy="247" r="4" fill="#ff3040" opacity="0.5" filter="url(#idb)"/><g filter="url(#idb)"><circle cx="35.6" cy="246.9" r="2.9" fill="#fff040" opacity="1"/><circle cx="31.6" cy="255.7" r="2.7" fill="#fff040" opacity="1"/></g></g>
<clipPath id="ic2"><rect x="76" y="223" width="41" height="44"/></clipPath><g clip-path="url(#ic2)"><rect x="76" y="223" width="41" height="44" fill="#04042a"/><ellipse cx="102" cy="247" rx="20" ry="25" transform="rotate(35 102 247)" fill="#2c78b4" filter="url(#ib)"/><ellipse cx="106" cy="245" rx="10" ry="14" fill="#3a88d0" opacity="0.6" filter="url(#ib2)"/><g filter="url(#idb)"><circle cx="101.3" cy="229" r="2.5" fill="#ffa040" opacity="1"/><circle cx="110.2" cy="228.6" r="2" fill="#30a060" opacity="0.6"/><circle cx="110.2" cy="243.5" r="2.6" fill="#e070a0" opacity="0.8"/><circle cx="86.8" cy="249.9" r="2.6" fill="#20e070" opacity="1"/><circle cx="98" cy="256.3" r="2.6" fill="#e070a0" opacity="0.75"/><circle cx="93.3" cy="245.3" r="1.6" fill="#e070a0" opacity="0.5"/></g></g>
<clipPath id="ic3"><rect x="152" y="223" width="40" height="44"/></clipPath><g clip-path="url(#ic3)"><rect x="152" y="223" width="40" height="44" fill="#05072a"/><path d="M169 236 L175 256" stroke="#2c7aa8" stroke-width="19" stroke-linecap="round" filter="url(#ib)" opacity="0.95"/><g filter="url(#idb)"><circle cx="166.5" cy="233.8" r="2.4" fill="#20e070" opacity="1"/><circle cx="172.5" cy="234" r="2.6" fill="#ff3060" opacity="1"/><circle cx="179.4" cy="255.1" r="2.4" fill="#20e070" opacity="1"/><circle cx="169.7" cy="257.7" r="2.7" fill="#ff3060" opacity="1"/></g></g>
<clipPath id="ic4"><rect x="222" y="223" width="40.5" height="44"/></clipPath><g clip-path="url(#ic4)"><rect x="222" y="223" width="40.5" height="44" fill="#05052a"/><path d="M233 256 L255 236" stroke="#2c7aaa" stroke-width="23" stroke-linecap="round" filter="url(#ib)" opacity="0.95"/><g filter="url(#idb)"><circle cx="226.6" cy="224.9" r="3.2" fill="#ff3060" opacity="1"/><circle cx="252.6" cy="228.8" r="2.4" fill="#20e070" opacity="1"/><circle cx="257.2" cy="238" r="2.5" fill="#ff3060" opacity="0.85"/><circle cx="227.2" cy="249.9" r="3.2" fill="#ff3060" opacity="1"/><circle cx="230" cy="257.7" r="2.4" fill="#20e070" opacity="1"/><circle cx="222" cy="227" r="2" fill="#20e070" opacity="1"/></g></g>
<clipPath id="ic5"><rect x="295.5" y="223" width="41" height="44"/></clipPath><g clip-path="url(#ic5)"><rect x="295.5" y="223" width="41" height="44" fill="#040430"/><path d="M306 236 L327 256" stroke="#2a88b4" stroke-width="18" stroke-linecap="round" filter="url(#ib)"/><ellipse cx="307" cy="238" rx="9" ry="9" fill="#2a84b8" filter="url(#ib)"/><ellipse cx="326" cy="255" rx="10" ry="10" fill="#2a84b8" filter="url(#ib)"/><ellipse cx="318" cy="248" rx="8" ry="11" transform="rotate(-45 318 248)" fill="#2a60e0" opacity="0.85" filter="url(#ib)"/><g filter="url(#idb)"><circle cx="314.3" cy="227.4" r="2.2" fill="#20e070" opacity="0.6"/><circle cx="303.3" cy="235.7" r="2.5" fill="#e05080" opacity="0.75"/><circle cx="332.6" cy="253.6" r="2.4" fill="#e05080" opacity="0.75"/><circle cx="327.4" cy="260.4" r="2.5" fill="#20e070" opacity="0.85"/><circle cx="318.7" cy="252.2" r="1.6" fill="#a0d0ff" opacity="0.6"/></g></g>
<clipPath id="ic6"><rect x="367.5" y="223" width="40.5" height="44"/></clipPath><g clip-path="url(#ic6)"><rect x="367.5" y="223" width="40.5" height="44" fill="#061850"/><ellipse cx="389" cy="247" rx="17" ry="23" fill="#2a70b8" filter="url(#ib)"/><ellipse cx="389" cy="250" rx="10" ry="14" fill="#2a60d0" opacity="0.7" filter="url(#ib)"/><ellipse cx="380" cy="225" rx="15" ry="6" fill="#38b8e8" filter="url(#ib)"/><ellipse cx="409" cy="244" rx="4" ry="10" fill="#30a8d8" opacity="0.9" filter="url(#ib)"/><ellipse cx="368" cy="255" rx="4" ry="14" fill="#020a30" opacity="0.8" filter="url(#ib)"/><ellipse cx="406" cy="265" rx="7" ry="7" fill="#041040" opacity="0.8" filter="url(#ib)"/><g filter="url(#idb)"><circle cx="391.1" cy="230.9" r="3.2" fill="#ff3060" opacity="1"/><circle cx="398.5" cy="233.4" r="2.6" fill="#20e070" opacity="1"/><circle cx="381.5" cy="225.6" r="2.2" fill="#40d080" opacity="0.6"/><circle cx="380.1" cy="257.7" r="2.6" fill="#20e070" opacity="0.85"/><circle cx="387" cy="260" r="3.1" fill="#ff3060" opacity="1"/></g></g>
<!-- Panel B blot -->
<defs>
<linearGradient id="lg1" gradientUnits="userSpaceOnUse" x1="0" y1="100" x2="0" y2="440"><stop offset="0.0000" stop-color="#d0d0d0"/><stop offset="0.0074" stop-color="#3c3c3c"/><stop offset="0.0132" stop-color="#0a0a0a"/><stop offset="0.0294" stop-color="#0a0a0a"/><stop offset="0.0382" stop-color="#2d2d2d"/><stop offset="0.0529" stop-color="#4e4e4e"/><stop offset="0.0824" stop-color="#5c5c5c"/><stop offset="0.1029" stop-color="#5f5f5f"/><stop offset="0.1824" stop-color="#5c5c5c"/><stop offset="0.1912" stop-color="#191919"/><stop offset="0.2059" stop-color="#030303"/><stop offset="0.2647" stop-color="#050505"/><stop offset="0.2882" stop-color="#1e1e1e"/><stop offset="0.3294" stop-color="#3e3e3e"/><stop offset="0.4412" stop-color="#5a5a5a"/><stop offset="0.5882" stop-color="#707070"/><stop offset="0.7118" stop-color="#868686"/><stop offset="0.7235" stop-color="#7a7a7a"/><stop offset="0.7529" stop-color="#7c7c7c"/><stop offset="0.7647" stop-color="#969696"/><stop offset="0.8235" stop-color="#a0a0a0"/><stop offset="0.9118" stop-color="#b4b4b4"/><stop offset="0.9647" stop-color="#c8c8c8"/><stop offset="1.0000" stop-color="#d2d2d2"/></linearGradient>
<linearGradient id="lg2" gradientUnits="userSpaceOnUse" x1="0" y1="100" x2="0" y2="440"><stop offset="0.0000" stop-color="#d0d0d0"/><stop offset="0.0088" stop-color="#5a5a5a"/><stop offset="0.0147" stop-color="#303030"/><stop offset="0.0265" stop-color="#343434"/><stop offset="0.0353" stop-color="#5a5a5a"/><stop offset="0.0529" stop-color="#707070"/><stop offset="0.0882" stop-color="#787878"/><stop offset="0.1176" stop-color="#7a7a7a"/><stop offset="0.1882" stop-color="#787878"/><stop offset="0.2000" stop-color="#3e3e3e"/><stop offset="0.2647" stop-color="#3a3a3a"/><stop offset="0.3000" stop-color="#555555"/><stop offset="0.4412" stop-color="#707070"/><stop offset="0.5882" stop-color="#828282"/><stop offset="0.7118" stop-color="#909090"/><stop offset="0.7235" stop-color="#828282"/><stop offset="0.7529" stop-color="#848484"/><stop offset="0.7647" stop-color="#9c9c9c"/><stop offset="0.8529" stop-color="#aaaaaa"/><stop offset="0.9412" stop-color="#c4c4c4"/><stop offset="1.0000" stop-color="#d2d2d2"/></linearGradient>
<linearGradient id="lg3" gradientUnits="userSpaceOnUse" x1="0" y1="100" x2="0" y2="440"><stop offset="0.0000" stop-color="#d0d0d0"/><stop offset="0.0103" stop-color="#969696"/><stop offset="0.0162" stop-color="#707070"/><stop offset="0.0250" stop-color="#747474"/><stop offset="0.0353" stop-color="#969696"/><stop offset="0.0588" stop-color="#a4a4a4"/><stop offset="0.1176" stop-color="#a6a6a6"/><stop offset="0.1882" stop-color="#a6a6a6"/><stop offset="0.2059" stop-color="#868686"/><stop offset="0.2941" stop-color="#878787"/><stop offset="0.4412" stop-color="#8c8c8c"/><stop offset="0.5882" stop-color="#949494"/><stop offset="0.7118" stop-color="#989898"/><stop offset="0.7235" stop-color="#888888"/><stop offset="0.7529" stop-color="#8a8a8a"/><stop offset="0.7647" stop-color="#a0a0a0"/><stop offset="0.8529" stop-color="#b0b0b0"/><stop offset="0.9265" stop-color="#c8c8c8"/><stop offset="1.0000" stop-color="#d2d2d2"/></linearGradient>
<filter id="lb" x="-30%" y="-5%" width="160%" height="110%"><feGaussianBlur stdDeviation="1.4 1.2"/></filter>
<filter id="mb" x="-50%" y="-50%" width="200%" height="200%"><feGaussianBlur stdDeviation="1.2"/></filter>
<filter id="noise" x="0" y="0" width="100%" height="100%"><feTurbulence type="fractalNoise" baseFrequency="0.35" numOctaves="2" seed="3"/><feColorMatrix values="0 0 0 0 0.5  0 0 0 0 0.5  0 0 0 0 0.5  0 0 0 0.12 0"/></filter>
</defs>
<rect x="491.5" y="91" width="108" height="376.8" fill="#d3d3d3"/>
<g filter="url(#lb)">
<rect x="532" y="101" width="15" height="340" fill="url(#lg1)" rx="2"/>
<rect x="549.5" y="101" width="14" height="340" fill="url(#lg2)" rx="2"/>
<rect x="566.5" y="101" width="14" height="340" fill="url(#lg3)" rx="2"/>
</g>
<g filter="url(#mb)">
<path d="M500.5 181 Q506.5 186 512.5 181" stroke="#b4b4b4" stroke-width="3.2" fill="none" opacity="0.3"/>
<path d="M500.5 194 Q506.5 199 512.5 194" stroke="#b4b4b4" stroke-width="3.2" fill="none" opacity="0.4"/>
<path d="M500.5 206 Q506.5 211 512.5 206" stroke="#b4b4b4" stroke-width="3.2" fill="none" opacity="0.5"/>
<path d="M500.5 219.5 Q506.5 224.5 512.5 219.5" stroke="#b4b4b4" stroke-width="3.2" fill="none" opacity="0.7"/>
<path d="M500.5 241 Q506.5 246 512.5 241" stroke="#b4b4b4" stroke-width="3.2" fill="none" opacity="0.7"/>
<path d="M500.5 275.5 Q506.5 280.5 512.5 275.5" stroke="#b4b4b4" stroke-width="3.2" fill="none" opacity="0.6"/>
<path d="M500.5 322.3 Q506.5 327.3 512.5 322.3" stroke="#b4b4b4" stroke-width="3.2" fill="none" opacity="0.55"/>
</g>
<rect x="491.5" y="91" width="108" height="376.8" fill="#808080" filter="url(#noise)" opacity="0.6"/>
<rect x="491.25" y="91" width="108" height="376.8" fill="none" stroke="#222" stroke-width="2"/>
<rect x="492.5" y="484.5" width="105.5" height="13.7" fill="#3c3c3c" stroke="#1e1e1e" stroke-width="1.2"/>
<g filter="url(#mb)" fill="#8a8a8a">
<rect x="525" y="489.5" width="18.5" height="6" rx="1"/>
<rect x="547" y="489.5" width="18" height="6" rx="1"/>
<rect x="569" y="489.5" width="18" height="6" rx="1"/>
</g>
<text x="485.7" y="222" font-size="13" text-anchor="end" stroke="#000" stroke-width="0.3">10kb</text>
<text x="485.7" y="244.1" font-size="13" text-anchor="end" stroke="#000" stroke-width="0.3">7kb</text>
<text x="485.7" y="279.7" font-size="13" text-anchor="end" stroke="#000" stroke-width="0.3">5kb</text>
<text x="485.7" y="328.3" font-size="13" text-anchor="end" stroke="#000" stroke-width="0.3">3kb</text>
<text x="508.7" y="87.2" font-size="13.8" text-anchor="middle" stroke="#000" stroke-width="0.25">M</text>
<text transform="translate(540.2,89.3) rotate(-90)" font-size="13.2" stroke="#000" stroke-width="0.3">shNC</text>
<text transform="translate(560.5,89.3) rotate(-90)" font-size="13.1" stroke="#000" stroke-width="0.3">shMETTL3-1</text>
<text transform="translate(579.6,89.3) rotate(-90)" font-size="13.1" stroke="#000" stroke-width="0.3">shMETTL3-2</text>
<text x="513.5" y="479.7" font-size="13.3" stroke="#000" stroke-width="0.25">Tel C-probe</text>
<text x="522.3" y="511.4" font-size="13" stroke="#000" stroke-width="0.25">Gel-red</text>

<!-- Panel C chart -->
<text x="242.3" y="304.7" font-size="12" font-weight="bold" text-anchor="middle">U2OS</text>
<g stroke="#000" stroke-width="2" fill="none">
  <path d="M141.5 314.5 V448.4 H344 M134 448.4 H141.5"/>
  <path d="M134 314.9 H141.5 M134 359.4 H141.5 M134 403.9 H141.5"/>
  <path d="M163.8 448.4 V456.8 M195.2 448.4 V456.8 M226.6 448.4 V456.8 M258 448.4 V456.8 M289.4 448.4 V456.8 M320.8 448.4 V456.8"/>
</g>
<g font-size="12.2" text-anchor="end">
  <text x="131.5" y="319">3</text>
  <text x="131.5" y="363.5">2</text>
  <text x="131.5" y="408">1</text>
  <text x="131.5" y="452.5">0</text>
</g>
<g font-size="12.2" text-anchor="middle">
  <text x="163.8" y="470">1</text>
  <text x="195.2" y="470">2</text>
  <text x="226.6" y="470">3</text>
  <text x="258" y="470">4</text>
  <text x="289.4" y="470">5</text>
  <text x="320.8" y="470">6</text>
</g>
<text x="242.8" y="486.5" font-size="12" font-weight="bold" text-anchor="middle">days</text>
<text transform="translate(99.8,382) rotate(-90)" font-size="12" font-weight="bold" text-anchor="middle">Cell Viability</text>
<text transform="translate(114.6,382.5) rotate(-90)" font-size="12.2" font-weight="bold" text-anchor="middle">( OD450 Value)</text>

<!-- legend -->
<g stroke-width="2.4">
  <line x1="154.3" y1="334.4" x2="176.4" y2="334.4" stroke="#000"/>
  <circle cx="164.8" cy="334.4" r="3.3" fill="#000"/>
  <line x1="154.3" y1="352.2" x2="176.4" y2="352.2" stroke="#f00"/>
  <rect x="161.6" y="349" width="6.4" height="6.4" fill="#f00"/>
  <line x1="154.3" y1="370.2" x2="176.4" y2="370.2" stroke="#00f"/>
  <path d="M164.8 366 L168.8 372.8 H160.8 Z" fill="#00f"/>
</g>
<g font-size="12.4">
  <text x="188.4" y="338.2">shNC</text>
  <text x="188.4" y="356.1">shMETTL3-1</text>
  <text x="188.4" y="374.1">shMETTL3-2</text>
</g>

<!-- data -->
<polyline points="164,445.5 195.4,440.5 226.8,435 258.3,428.5 289.9,421 321.4,401" stroke="#00f" stroke-width="2.6" fill="none" stroke-linejoin="round"/>
<path d="M321.4 392.2 V406.4 M318.5 392.2 H324.3 M318.5 406.4 H324.3 M258.3 426 V430 M255.4 426 H261.2" stroke="#00f" stroke-width="2" fill="none"/>
<path d="M164 441.5 L168 448.5 H160 Z" fill="#00f"/>
<path d="M195.4 436.5 L199.4 443.5 H191.4 Z" fill="#00f"/>
<path d="M226.8 431 L230.8 438 H222.8 Z" fill="#00f"/>
<path d="M258.3 424.5 L262.3 431.5 H254.3 Z" fill="#00f"/>
<path d="M289.9 417 L293.9 424 H285.9 Z" fill="#00f"/>
<path d="M321.4 397 L325.4 404 H317.4 Z" fill="#00f"/>
<polyline points="164,446 195.4,442.2 226.8,436.2 258.3,432.4 289.9,419.5 321.4,398.2" stroke="#f00" stroke-width="2.6" fill="none" stroke-linejoin="round"/>
<path d="M258.3 427.5 V438 M255.4 438 H261.2" stroke="#f00" stroke-width="2" fill="none"/>
<rect x="160.4" y="442.4" width="7.2" height="7.2" fill="#f00"/>
<rect x="191.8" y="438.59999999999997" width="7.2" height="7.2" fill="#f00"/>
<rect x="223.20000000000002" y="432.59999999999997" width="7.2" height="7.2" fill="#f00"/>
<rect x="254.70000000000002" y="428.79999999999995" width="7.2" height="7.2" fill="#f00"/>
<rect x="286.29999999999995" y="415.9" width="7.2" height="7.2" fill="#f00"/>
<rect x="317.79999999999995" y="394.59999999999997" width="7.2" height="7.2" fill="#f00"/>
<polyline points="164,444.8 195.4,437.7 226.8,424.5 258.3,402.7 289.9,373.8 321.4,344.6" stroke="#000" stroke-width="2.6" fill="none" stroke-linejoin="round"/>
<path d="M289.9 365.6 V381.9 M287 365.6 H292.8 M287 381.9 H292.8 M321.4 339.9 V349.3 M318.5 339.9 H324.3 M318.5 349.3 H324.3" stroke="#000" stroke-width="2" fill="none"/>
<circle cx="164" cy="444.8" r="3.6" fill="#000"/>
<circle cx="195.4" cy="437.7" r="3.6" fill="#000"/>
<circle cx="226.8" cy="424.5" r="3.6" fill="#000"/>
<circle cx="258.3" cy="402.7" r="3.6" fill="#000"/>
<circle cx="289.9" cy="373.8" r="3.6" fill="#000"/>
<circle cx="321.4" cy="344.6" r="3.6" fill="#000"/>
<path d="M327.8 343.8 H333.2 V397.2 H327.8" stroke="#f00" stroke-width="2" fill="none"/>
<path d="M336 344 H341.3 V400.3 H336" stroke="#00f" stroke-width="2" fill="none"/>
<path d="M332.90 359.00 L339.50 359.00 M334.55 356.14 L337.85 361.86 M337.85 356.14 L334.55 361.86 M332.90 366.60 L339.50 366.60 M334.55 363.74 L337.85 369.46 M337.85 363.74 L334.55 369.46 M332.90 374.20 L339.50 374.20 M334.55 371.34 L337.85 377.06 M337.85 371.34 L334.55 377.06 M332.90 381.60 L339.50 381.60 M334.55 378.74 L337.85 384.46 M337.85 378.74 L334.55 384.46 M342.20 362.40 L348.80 362.40 M343.85 359.54 L347.15 365.26 M347.15 359.54 L343.85 365.26 M342.20 369.60 L348.80 369.60 M343.85 366.74 L347.15 372.46 M347.15 366.74 L343.85 372.46 M342.20 376.80 L348.80 376.80 M343.85 373.94 L347.15 379.66 M347.15 373.94 L343.85 379.66 M342.20 384.00 L348.80 384.00 M343.85 381.14 L347.15 386.86 M347.15 381.14 L343.85 386.86 " stroke="#2a2a2a" stroke-width="1.3" fill="none"/>
</svg>
</body></html>
